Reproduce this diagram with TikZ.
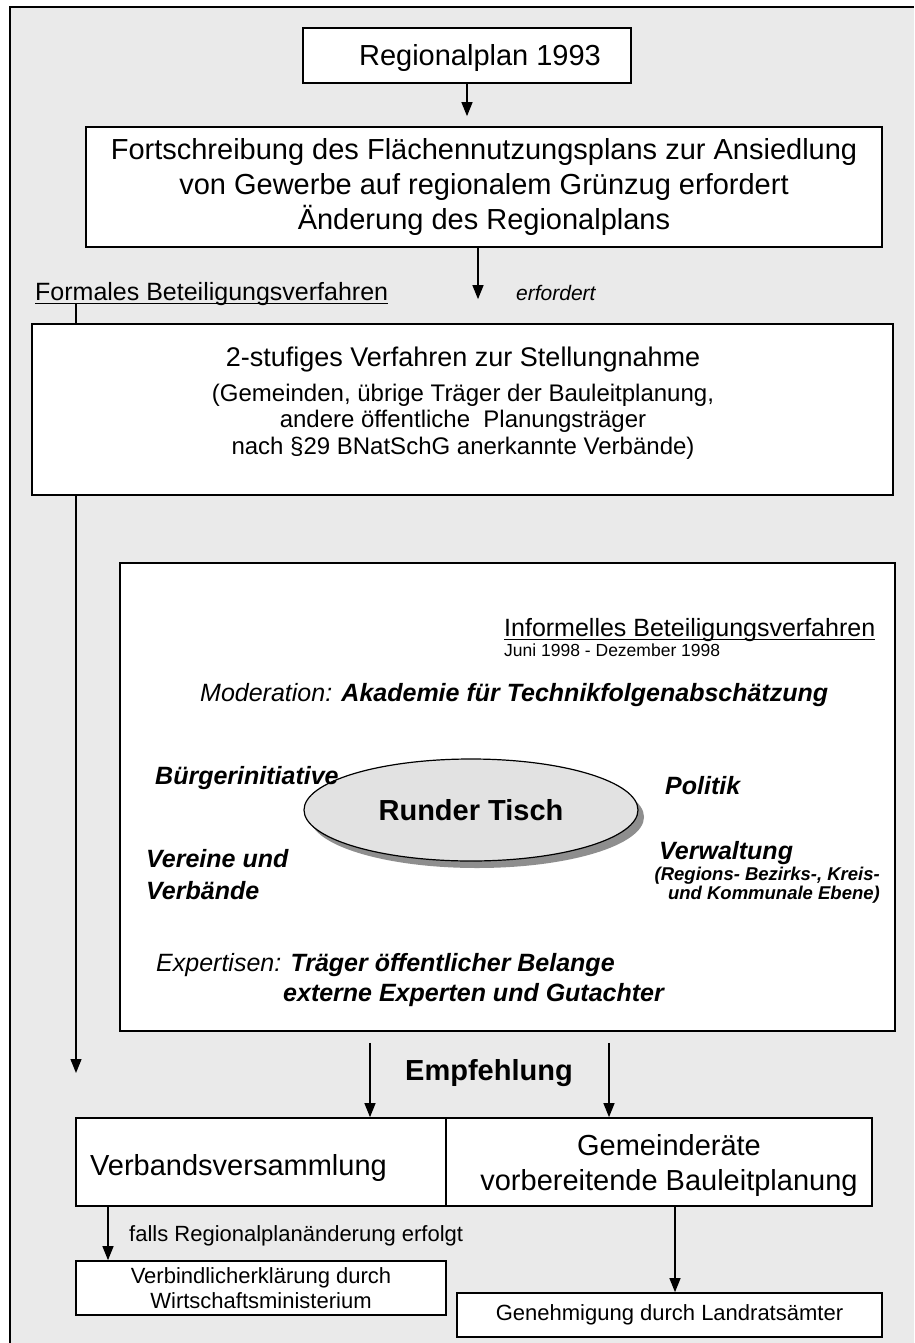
\documentclass[tikz,border=0pt]{standalone}
\usepackage{fontspec}
\setmainfont{Liberation Sans}
\usetikzlibrary{arrows.meta,shapes.geometric}
\definecolor{bggray}{HTML}{EAEAEA}
\definecolor{elfill}{HTML}{E2E2E2}
\definecolor{elshadow}{HTML}{8E8E8E}
\begin{document}
\begin{tikzpicture}[x=1pt,y=-1pt,
  box/.style={draw=black, line width=1.7pt, fill=white, inner sep=0pt},
  conn/.style={line width=1.3pt},
  arr/.style={conn, -{Triangle[length=14pt,width=11pt]}},
  uline/.style={line width=1.1pt},
  lbl/.style={inner sep=0pt, anchor=base west},
  lblc/.style={inner sep=0pt, anchor=base},
  lble/.style={inner sep=0pt, anchor=base east},
  big/.style={font=\fontsize{29}{35}\selectfont},
  mid/.style={font=\fontsize{24}{27}\selectfont},
  small/.style={font=\fontsize{22}{25}\selectfont},
  bi/.style={font=\fontsize{25}{30}\selectfont\bfseries\itshape}
]
\useasboundingbox (0,0) rectangle (914,1343);
\fill[white] (0,0) rectangle (914,1343);
\fill[bggray] (10,7) rectangle (914,1343);
\draw[line width=1.8pt] (10,1343) -- (10,7) -- (914,7);

% coordinates for connector x positions
\coordinate (ax2) at (478,0);
\coordinate (lx) at (76,0);
\coordinate (lend) at (76,1073);
\coordinate (e1) at (370,0);
\coordinate (e2) at (609,0);
\coordinate (f1) at (108,0);
\coordinate (f2) at (675,0);

% Box 1
\node[box, minimum width=328pt, minimum height=55pt] (b1) at (467,55.5) {};
\node[lblc, big] (t1) at (480,65.5) {Regionalplan 1993};

% Box 2
\node[box, minimum width=796pt, minimum height=120pt, big, align=center] (b2) at (484,187)
  {Fortschreibung des Flächennutzungsplans zur Ansiedlung\\
   von Gewerbe auf regionalem Grünzug erfordert\\
   Änderung des Regionalplans};

% Formales + erfordert
\node[lbl, font=\fontsize{25}{30}\selectfont] (formal) at (35,300) {Formales Beteiligungsverfahren};
\draw[uline] ([yshift=-3.5pt]formal.base west) -- ([yshift=-3.5pt]formal.base east);
\node[lbl, font=\fontsize{21}{25}\selectfont\itshape] (erf) at (516,300.5) {erfordert};

% Box 3
\node[box, minimum width=861pt, minimum height=171pt] (b3) at (462.5,409.5) {};
\node[lblc, font=\fontsize{27}{32}\selectfont] (t3a) at (463,366.5) {2-stufiges Verfahren zur Stellungnahme};
\node[lblc, mid] (t3b) at (463,401.5) {(Gemeinden, übrige Träger der Bauleitplanung,};
\node[lblc, mid] (t3c) at (463,427.5) {andere öffentliche\ \ Planungsträger};
\node[lblc, mid] (t3d) at (463,454.5) {nach §29 BNatSchG anerkannte Verbände)};

% connectors top
\draw[arr, shorten >=10pt] (b1.south) -- (b1.south |- b2.north);
\draw[arr, shorten >=24pt] (b2.south -| ax2) -- (b3.north -| ax2);
\draw[conn] ([yshift=-3.5pt]formal.base west -| lx) -- (b3.north -| lx);
\draw[arr] (b3.south -| lx) -- (lend);

% Box 4 (informal)
\node[box, minimum width=775pt, minimum height=468pt] (b4) at (507.5,797) {};
\node[lbl, font=\fontsize{25}{30}\selectfont] (inf) at (504,636) {Informelles Beteiligungsverfahren};
\draw[uline] ([yshift=-3.5pt]inf.base west) -- ([yshift=-3.5pt]inf.base east);
\node[lbl, font=\fontsize{17.5}{20}\selectfont] (juni) at (504,656.5) {Juni 1998 - Dezember 1998};
\node[lbl, font=\fontsize{25}{30}\selectfont] (mod) at (200,701) {\itshape Moderation: \bfseries Akademie für Technikfolgenabschätzung};

% Runder Tisch
\fill[elshadow] (477,817) ellipse [x radius=167pt, y radius=51pt];
\node[ellipse, draw=black, line width=1.2pt, fill=elfill, minimum width=334pt, minimum height=102pt, inner sep=0pt,
  font=\fontsize{29}{35}\selectfont\bfseries] (rt) at (471,810) {Runder Tisch};

\node[lbl, bi] (buerg) at (155,784) {Bürgerinitiative};
\node[lbl, bi] (pol) at (665,794) {Politik};
\node[lbl, bi] (verw) at (659,859) {Verwaltung};
\node[lble, font=\fontsize{18.5}{22}\selectfont\bfseries\itshape] (verw2) at (880,880) {(Regions- Bezirks-, Kreis-};
\node[lble, font=\fontsize{18.5}{22}\selectfont\bfseries\itshape] (verw3) at (880,899) {und Kommunale Ebene)};
\node[lbl, bi] (ver1) at (146,867) {Vereine und};
\node[lbl, bi] (ver2) at (146,899) {Verbände};
\node[lbl, font=\fontsize{25}{30}\selectfont] (exp1) at (156,971) {\itshape Expertisen: \bfseries Träger öffentlicher Belange};
\node[lbl, bi] (exp2) at (283,1001) {externe Experten und Gutachter};

% Empfehlung
\node[lblc, font=\fontsize{29}{35}\selectfont\bfseries] (empf) at (489,1080) {Empfehlung};

% Box 5
\node[box, minimum width=370pt, minimum height=88pt] (b5a) at (261,1162) {};
\node[box, minimum width=426pt, minimum height=88pt] (b5b) at (659,1162) {};
\node[lbl, big] (t5a) at (90,1175) {Verbandsversammlung};
\node[lblc, big] (t5b) at (669,1155) {Gemeinderäte};
\node[lblc, big] (t5c) at (669,1190) {vorbereitende Bauleitplanung};

\draw[arr, shorten <=11pt] (b4.south -| e1) -- (b5a.north -| e1);
\draw[arr, shorten <=11pt] (b4.south -| e2) -- (b5b.north -| e2);

% bottom boxes
\node[box, minimum width=370pt, minimum height=54pt, small, align=center] (b6) at (261,1288)
  {Verbindlicherklärung durch\\Wirtschaftsministerium};
\node[box, minimum width=425pt, minimum height=44pt, small] (b7) at (669.5,1315) {Genehmigung durch Landratsämter};
\node[lbl, small] (falls) at (129,1241) {falls Regionalplanänderung erfolgt};

\draw[arr] (b5a.south -| f1) -- (b6.north -| f1);
\draw[arr] (b5b.south -| f2) -- (b7.north -| f2);
\end{tikzpicture}
\end{document}
